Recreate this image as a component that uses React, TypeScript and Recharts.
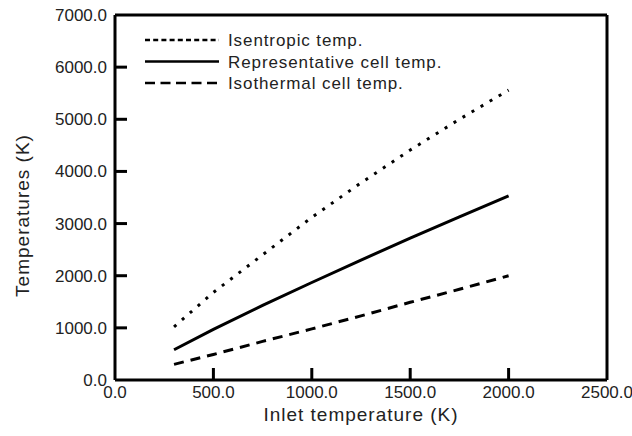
import { LineChart, Line, XAxis, YAxis, Label, ReferenceLine } from 'recharts'

const inletTemps = [300, 500, 750, 1000, 1250, 1500, 1750, 2000]
const isentropic = [1020, 1680, 2400, 3120, 3780, 4410, 5000, 5560]
const representative = [580, 970, 1430, 1870, 2300, 2720, 3130, 3530]
const isothermal = [300, 490, 740, 980, 1230, 1490, 1740, 2000]

const xTicks = [0, 500, 1000, 1500, 2000, 2500]
const yTicks = [0, 1000, 2000, 3000, 4000, 5000, 6000, 7000]

const legendItems = [
  { name: 'Isentropic temp.', dash: '5 3.2' },
  { name: 'Representative cell temp.', dash: undefined },
  { name: 'Isothermal cell temp.', dash: '10 5.5' },
]

const data = inletTemps.map((t, i) => ({
  inlet: t,
  isentropic: isentropic[i],
  representative: representative[i],
  isothermal: isothermal[i],
}))

const font = '"Liberation Sans", Arial, sans-serif'
const fmt = (v: number) => v.toFixed(1)
const frame = { stroke: '#000', strokeWidth: 3 }
const X_MAX = 2500
const Y_MAX = 7000
const TICK = 12

// inward tick on the bottom axis: short piece of a full-height reference line
const xTickShape = (p: any) => {
  const bottom = Math.max(p.y1, p.y2)
  return <line x1={p.x1} x2={p.x1} y1={bottom} y2={bottom - TICK} stroke="#000" strokeWidth={3} />
}

// inward tick on the left axis
const yTickShape = (p: any) => {
  const left = Math.min(p.x1, p.x2)
  return <line x1={left} x2={left + TICK} y1={p.y1} y2={p.y1} stroke="#000" strokeWidth={3} />
}

function LegendBox() {
  return (
    <svg width={340} height={100} style={{ position: 'absolute', left: 140, top: 25 }}>
      {legendItems.map((item, i) => (
        <g key={item.name}>
          <line
            x1={5}
            x2={79}
            y1={15 + i * 21.5}
            y2={15 + i * 21.5}
            stroke="#000"
            strokeWidth={2.5}
            strokeDasharray={item.dash}
          />
          <text x={88} y={21 + i * 21.5} fontSize={17} letterSpacing={0.9} fontFamily={font} fill="#222">
            {item.name}
          </text>
        </g>
      ))}
    </svg>
  )
}

function YTitle(props: any) {
  const vb = props.viewBox || { x: 0, y: 15, width: 115, height: 365 }
  const cx = vb.x + 22
  const cy = vb.y + vb.height / 2 + 18
  return (
    <text
      x={cx}
      y={cy}
      transform={`rotate(-90, ${cx}, ${cy})`}
      textAnchor="middle"
      dominantBaseline="central"
      fontSize={19}
      letterSpacing={1}
      fontFamily={font}
      fill="#222"
    >
      Temperatures (K)
    </text>
  )
}

export default function App() {
  return (
    <div style={{ position: 'absolute', left: 0, top: 0, width: 632, height: 436, background: '#fff' }}>
      <LineChart width={632} height={436} data={data} margin={{ top: 15, right: 25, bottom: 0, left: 0 }}>
        <XAxis
          dataKey="inlet"
          type="number"
          height={56}
          domain={[0, X_MAX]}
          ticks={xTicks}
          tickFormatter={fmt}
          tickSize={0}
          tickMargin={6}
          tick={{ fill: '#222', fontSize: 17, fontFamily: font }}
          axisLine={frame}
          tickLine={false}
          interval={0}
        >
          <Label
            value="Inlet temperature (K)"
            position="insideBottom"
            offset={15}
            style={{ fontSize: 19, letterSpacing: 1, fontFamily: font, fill: '#222' }}
          />
        </XAxis>
        <YAxis
          type="number"
          width={115}
          domain={[0, Y_MAX]}
          ticks={yTicks}
          tickFormatter={fmt}
          tickSize={0}
          tickMargin={8}
          tick={{ fill: '#222', fontSize: 17, fontFamily: font }}
          axisLine={frame}
          tickLine={false}
          interval={0}
        >
          <Label content={YTitle} />
        </YAxis>
        <ReferenceLine y={Y_MAX} {...frame} ifOverflow="visible" />
        <ReferenceLine x={X_MAX} {...frame} ifOverflow="visible" />
        {xTicks.slice(1, -1).map((t) => (
          <ReferenceLine key={'xt' + t} x={t} stroke="#000" ifOverflow="visible" shape={xTickShape} />
        ))}
        {yTicks.slice(1, -1).map((t) => (
          <ReferenceLine key={'yt' + t} y={t} stroke="#000" ifOverflow="visible" shape={yTickShape} />
        ))}
        <Line dataKey="isentropic" stroke="#000" strokeWidth={3} strokeDasharray="3 7.5" dot={false} isAnimationActive={false} />
        <Line dataKey="representative" stroke="#000" strokeWidth={3} dot={false} isAnimationActive={false} />
        <Line dataKey="isothermal" stroke="#000" strokeWidth={3} strokeDasharray="10 7" dot={false} isAnimationActive={false} />
      </LineChart>
      <LegendBox />
    </div>
  )
}
